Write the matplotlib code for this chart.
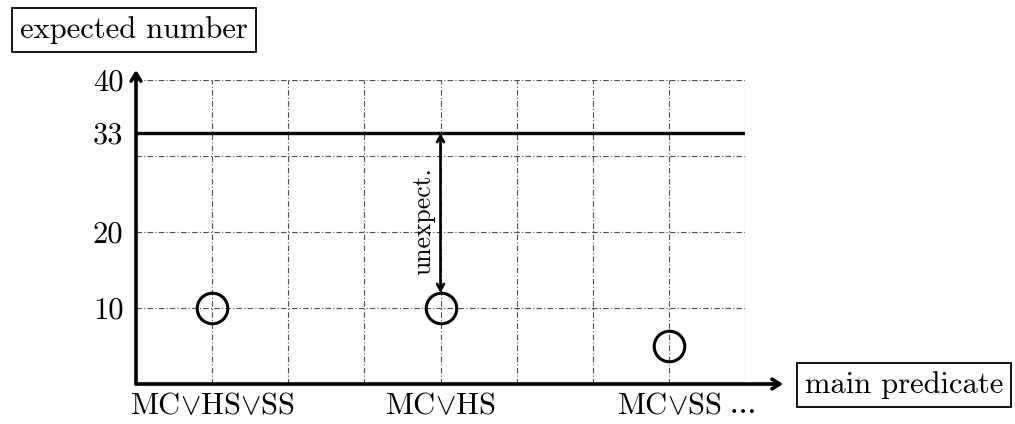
import matplotlib
matplotlib.use("Agg")
import matplotlib.pyplot as plt

plt.rcParams["font.family"] = ["cmr10", "DejaVu Serif"]
plt.rcParams["mathtext.fontset"] = "cm"
plt.rcParams["axes.unicode_minus"] = False

# data
categories = [r"MC$\vee$HS$\vee$SS", r"MC$\vee$HS", r"MC$\vee$SS"]
cat_x = [1, 4, 7]
expected = [10, 10, 5]
threshold = 33
y_ticks = [10, 20, 33, 40]
grid_x = [1, 2, 3, 4, 5, 6, 7, 8]
grid_y = [10, 20, 30, 40]

fig = plt.figure(figsize=(10.15, 4.24), dpi=100)
ax = fig.add_axes([136 / 1015, 40 / 424, 609 / 1015, 304 / 424])
ax.set_xlim(0, 8)
ax.set_ylim(0, 40)
for s in ax.spines.values():
    s.set_visible(False)

# grid
ax.hlines(grid_y, 0, 8, colors="0.3", lw=0.8, linestyles=(0, (5, 2, 1, 2)), zorder=1)
ax.vlines(grid_x, 0, 40, colors="0.3", lw=0.8, linestyles=(0, (5, 2, 1, 2)), zorder=1)

# threshold line
ax.hlines(threshold, 0, 8, colors="black", lw=2.4, zorder=2)

# axes arrows
ax.annotate("", xy=(8.5, 0), xytext=(0, 0), annotation_clip=False,
            arrowprops=dict(arrowstyle="->,head_length=0.55,head_width=0.35",
                            lw=2.6, color="black", shrinkA=0, shrinkB=0))
ax.annotate("", xy=(0, 41.3), xytext=(0, 0), annotation_clip=False,
            arrowprops=dict(arrowstyle="->,head_length=0.55,head_width=0.35",
                            lw=2.6, color="black", shrinkA=0, shrinkB=0))

# points
ax.plot(cat_x, expected, "o", ms=22, mfc="none", mec="black", mew=2.2,
        zorder=4, clip_on=False)

# unexpected arrow
ax.annotate("", xy=(4, threshold), xytext=(4, 12), annotation_clip=False,
            arrowprops=dict(arrowstyle="<->,head_length=0.45,head_width=0.25",
                            lw=1.9, color="black", shrinkA=0, shrinkB=0))
ax.text(3.78, 21.4, "unexpect.", rotation=90, ha="center", va="center",
        fontsize=18.5)

# ticks
ax.set_yticks(y_ticks)
ax.set_yticklabels([str(v) for v in y_ticks], fontsize=22)
ax.set_xticks(cat_x)
ax.set_xticklabels(categories, fontsize=22)
ax.tick_params(axis="both", length=0)
ax.tick_params(axis="y", pad=9)
ax.tick_params(axis="x", pad=6.5)
ax.text(7.95, -4.4, r"$\cdots$", ha="center", va="baseline", fontsize=22)

# axis label boxes
fig.text(134 / 1015, 1 - 30 / 424, "expected number", ha="center", va="center",
         fontsize=22, bbox=dict(boxstyle="square,pad=0.25", fc="white",
                                ec="black", lw=1.3))
fig.text(904 / 1015, 1 - 385 / 424, "main predicate", ha="center", va="center",
         fontsize=22, bbox=dict(boxstyle="square,pad=0.25", fc="white",
                                ec="black", lw=1.3))

fig.savefig("out.png", dpi=100)
